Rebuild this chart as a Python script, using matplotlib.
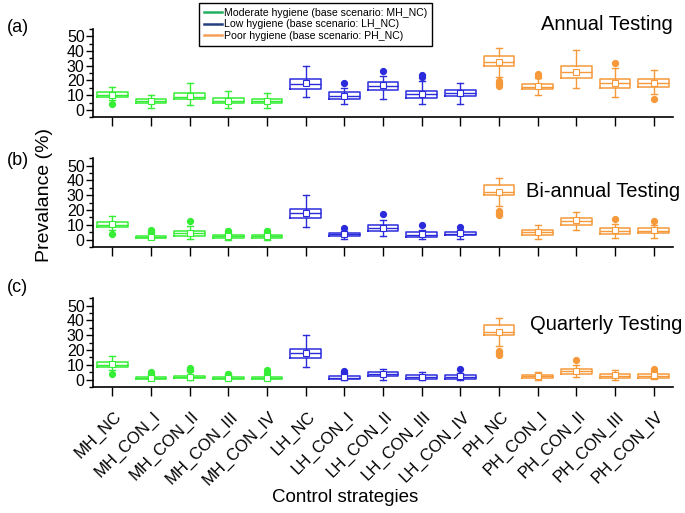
import matplotlib
matplotlib.use("Agg")
import matplotlib.pyplot as plt
from matplotlib.lines import Line2D
from matplotlib.ticker import MultipleLocator
import matplotlib.transforms as mtransforms

plt.rcParams['font.family'] = ['Liberation Sans', 'DejaVu Sans']

categories = ["MH_NC", "MH_CON_I", "MH_CON_II", "MH_CON_III", "MH_CON_IV",
              "LH_NC", "LH_CON_I", "LH_CON_II", "LH_CON_III", "LH_CON_IV",
              "PH_NC", "PH_CON_I", "PH_CON_II", "PH_CON_III", "PH_CON_IV"]
groups = ["MH"] * 5 + ["LH"] * 5 + ["PH"] * 5
legend_labels = ["Moderate hygiene (base scenario: MH_NC)",
                 "Low hygiene (base scenario: LH_NC)",
                 "Poor hygiene (base scenario: PH_NC)"]
panel_titles = ["Annual Testing", "Bi-annual Testing", "Quarterly Testing"]
panel_tags = ["(a)", "(b)", "(c)"]

ph_nc_fliers = [16.4, 17.3, 18.2, 19.0, 19.6]

# Annual testing
annual_whislo = [6.8, 1.1, 3.2, 1.1, 1.1, 8.8, 3.8, 7.4, 4.3, 4.3, 22.5, 10.1, 14.6, 9.0, 10.8]
annual_q1 = [8.6, 4.5, 7.4, 4.5, 4.5, 14.4, 7.4, 13.5, 8.1, 9.5, 30.0, 14.0, 21.8, 14.6, 15.3]
annual_med = [10.2, 6.1, 9.0, 6.3, 6.1, 17.8, 9.7, 16.4, 10.8, 11.5, 32.4, 15.8, 25.9, 18.0, 18.2]
annual_q3 = [12.2, 7.7, 11.7, 7.9, 7.7, 21.0, 12.0, 19.1, 13.0, 13.5, 36.7, 17.6, 29.5, 20.9, 20.7]
annual_whishi = [15.8, 10.1, 18.5, 12.8, 11.3, 30.0, 15.0, 23.0, 19.6, 18.5, 41.7, 21.8, 40.3, 28.2, 27.0]
annual_mean = [10.5, 6.0, 9.5, 6.2, 6.2, 18.0, 9.7, 16.8, 11.0, 11.5, 32.5, 16.0, 26.0, 18.2, 18.0]
annual_fliers = [[4.0], [], [], [], [], [], [18.5], [26.6], [22.3, 23.4], [],
                 ph_nc_fliers, [23.0, 24.3], [], [31.5], [7.4]]

# Bi-annual testing
bi_whislo = [6.8, 0.2, 0.7, 0.0, 0.0, 8.8, 0.7, 2.5, 0.7, 0.7, 22.5, 0.2, 6.5, 1.1, 1.1]
bi_q1 = [8.6, 1.0, 2.7, 1.3, 1.3, 14.4, 2.7, 5.6, 2.0, 2.9, 30.0, 3.4, 10.1, 4.0, 4.3]
bi_med = [10.2, 1.8, 4.3, 2.2, 2.2, 17.8, 3.6, 7.6, 3.4, 4.0, 32.4, 4.9, 12.8, 6.1, 6.1]
bi_q3 = [12.2, 2.6, 6.0, 3.1, 3.1, 21.0, 4.5, 9.6, 4.9, 5.2, 36.7, 6.3, 14.6, 7.8, 7.6]
bi_whishi = [15.8, 4.2, 9.0, 4.5, 4.5, 30.0, 6.0, 13.5, 6.7, 6.3, 41.7, 10.1, 19.0, 10.8, 10.1]
bi_mean = [10.5, 2.0, 4.8, 2.4, 2.4, 18.0, 3.8, 8.0, 3.8, 4.2, 32.5, 5.0, 13.0, 6.5, 6.2]
bi_fliers = [[4.0], [5.2, 6.0, 6.7], [12.3], [5.5, 6.1], [5.5, 6.1], [], [8.0], [17.3],
             [9.6], [8.5], ph_nc_fliers, [], [], [13.7], [12.8]]

# Quarterly testing
q_whislo = [6.8, 0.0, 0.0, 0.0, 0.0, 8.8, 0.0, 0.0, 0.0, 0.0, 22.5, 0.0, 1.6, 0.0, 0.2]
q_q1 = [8.6, 0.4, 0.9, 0.3, 0.3, 14.4, 0.5, 2.5, 0.7, 0.7, 30.0, 1.1, 4.0, 1.1, 1.3]
q_med = [10.2, 1.1, 1.8, 1.1, 1.1, 17.8, 1.4, 3.8, 2.0, 2.0, 32.4, 2.2, 5.6, 2.7, 2.7]
q_q3 = [12.2, 1.8, 2.7, 1.8, 1.8, 21.0, 2.7, 5.2, 2.9, 3.1, 36.7, 3.4, 7.2, 4.0, 4.0]
q_whishi = [15.8, 3.0, 5.6, 2.9, 4.0, 30.0, 4.2, 7.4, 4.9, 4.5, 41.7, 5.4, 10.1, 6.5, 5.6]
q_mean = [10.5, 1.2, 2.0, 1.2, 1.3, 18.0, 1.6, 4.0, 2.1, 2.2, 32.5, 2.4, 5.8, 2.9, 3.0]
q_fliers = [[4.0], [3.6, 4.4, 5.2], [6.3, 7.0, 7.6], [3.5, 4.0], [5.2, 6.5], [], [4.8, 5.6],
            [], [], [7.0], ph_nc_fliers, [], [13.0], [], [7.2]]

panels = [
    (annual_whislo, annual_q1, annual_med, annual_q3, annual_whishi, annual_mean, annual_fliers),
    (bi_whislo, bi_q1, bi_med, bi_q3, bi_whishi, bi_mean, bi_fliers),
    (q_whislo, q_q1, q_med, q_q3, q_whishi, q_mean, q_fliers),
]

box_colors = {"MH": "#35ee35", "LH": "#2b2bdc", "PH": "#f5993a"}
legend_colors = ["#22b060", "#24407f", "#f5a05a"]

fig = plt.figure(figsize=(6.85, 5.13), dpi=100)
left, width, height = 0.1358, 0.8467, 0.173
bottoms = [0.771, 0.5185, 0.2456]
title_pos = [(0.9825, 0.953), (0.993, 0.626), (0.996, 0.3665)]
tag_y = [0.947, 0.688, 0.44]

positions = list(range(len(categories)))
for k, (wl, q1, md, q3, wh, mn, fl) in enumerate(panels):
    ax = fig.add_axes([left, bottoms[k], width, height])
    stats = []
    for i in range(len(categories)):
        stats.append(dict(whislo=wl[i], q1=q1[i], med=md[i], q3=q3[i],
                          whishi=wh[i], mean=mn[i], fliers=fl[i]))
    art = ax.bxp(stats, positions=positions, widths=0.8, capwidths=0.16,
                 showmeans=True, showfliers=True, patch_artist=False)
    for i, g in enumerate(groups):
        c = box_colors[g]
        art['boxes'][i].set(color=c, linewidth=1.1)
        art['medians'][i].set(color=c, linewidth=1.0)
        for j in (2 * i, 2 * i + 1):
            art['whiskers'][j].set(color=c, linewidth=1.0)
            art['caps'][j].set(color=c, linewidth=1.0)
        art['fliers'][i].set(marker='o', markerfacecolor=c, markeredgecolor=c,
                             markersize=4.2, linestyle='none')
        art['means'][i].set(marker='s', markerfacecolor='white', markeredgecolor=c,
                            markersize=3.8, markeredgewidth=0.8)
    ax.set_xlim(-0.5, 14.5)
    ax.set_ylim(-5, 55)
    ax.yaxis.set_major_locator(MultipleLocator(10))
    ax.yaxis.set_minor_locator(MultipleLocator(5))
    ax.set_yticks([0, 10, 20, 30, 40, 50])
    ax.tick_params(axis='y', which='major', direction='out', length=5, width=1,
                   labelsize=11.5, pad=1)
    ax.tick_params(axis='y', which='minor', direction='out', length=3, width=1)
    ax.tick_params(axis='x', which='major', direction='out', length=6.5, width=1)
    ax.set_xticks(positions)
    if k == 2:
        ax.set_xticklabels(categories, fontsize=12, rotation=45,
                           rotation_mode='anchor', ha='right', va='center')
        ax.tick_params(axis='x', pad=13)
        off = mtransforms.ScaledTranslation(7 / 100, 0, fig.dpi_scale_trans)
        for lab in ax.get_xticklabels():
            lab.set_transform(lab.get_transform() + off)
    else:
        ax.set_xticklabels([])
    for s in ('top', 'right'):
        ax.spines[s].set_visible(False)
    for s in ('left', 'bottom'):
        ax.spines[s].set_linewidth(1.2)
    ax.patch.set_alpha(0)
    fig.text(title_pos[k][0], title_pos[k][1], panel_titles[k], fontsize=14.5,
             ha='right', va='center')
    fig.text(0.01, tag_y[k], panel_tags[k], fontsize=13, ha='left', va='center')

fig.text(0.065, 0.62, "Prevalance (%)", rotation=90, fontsize=14,
         ha='center', va='center')
fig.text(0.504, 0.031, "Control strategies", fontsize=13.5, ha='center', va='center')

handles = [Line2D([0], [0], color=c, linewidth=1.8) for c in legend_colors]
fig.legend(handles, legend_labels, loc='upper left',
           bbox_to_anchor=(199 / 685, 1 - 3 / 513), fontsize=7.6,
           frameon=True, fancybox=False, edgecolor='black', framealpha=1,
           handlelength=1.7, handletextpad=0.2, labelspacing=0.15,
           borderpad=0.45, borderaxespad=0)

fig.savefig("out.png", dpi=100)
